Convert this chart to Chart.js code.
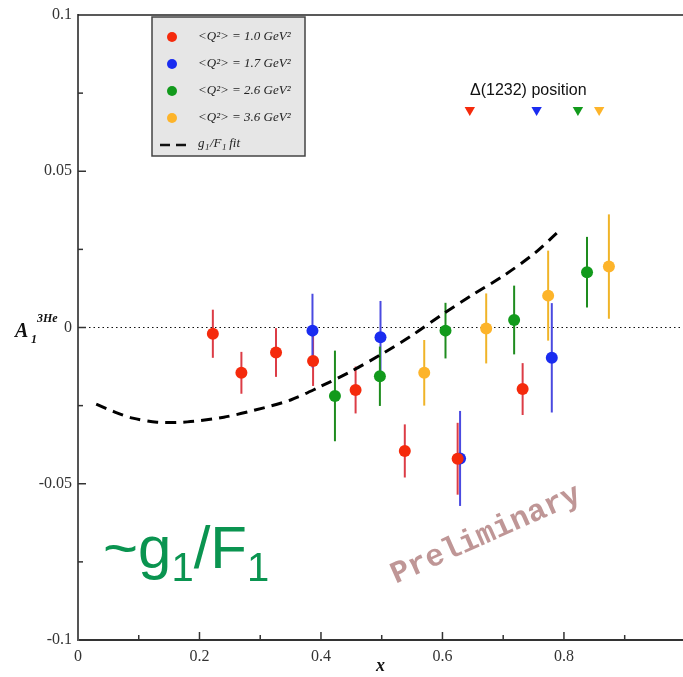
<!DOCTYPE html>
<html lang="en">
<head>
    <meta charset="UTF-8">
    <title>A1 3He vs x</title>
    <script src="https://cdn.jsdelivr.net/npm/chart.js"></script>
    <style>
        body {
            margin: 0;
            background-color: white;
        }
        #chartContainer {
            width: 683px;
            height: 677px;
        }
    </style>
</head>
<body>

    <div id="chartContainer">
        <canvas id="a1Chart"></canvas>
    </div>

    <script>
        // <Q^2> = 1.0 GeV^2
        const q10X = [0.222, 0.269, 0.326, 0.387, 0.457, 0.538, 0.625, 0.732];
        const q10Y = [-0.002, -0.0145, -0.008, -0.0107, -0.020, -0.0395, -0.042, -0.0197];
        const q10Err = [0.0077, 0.0067, 0.0078, 0.008, 0.0075, 0.0085, 0.0115, 0.0083];

        // <Q^2> = 1.7 GeV^2
        const q17X = [0.386, 0.498, 0.629, 0.780];
        const q17Y = [-0.001, -0.0031, -0.0419, -0.0097];
        const q17Err = [0.0118, 0.0116, 0.0152, 0.0175];

        // <Q^2> = 2.6 GeV^2
        const q26X = [0.423, 0.497, 0.605, 0.718, 0.838];
        const q26Y = [-0.0219, -0.0156, -0.001, 0.0024, 0.0177];
        const q26Err = [0.0145, 0.0095, 0.0089, 0.011, 0.0113];

        // <Q^2> = 3.6 GeV^2
        const q36X = [0.570, 0.672, 0.774, 0.874];
        const q36Y = [-0.0145, -0.0003, 0.0102, 0.0195];
        const q36Err = [0.0105, 0.0112, 0.0144, 0.0167];

        // g1/F1 fit curve
        const fitX = [0.03, 0.06, 0.09, 0.13, 0.18, 0.24, 0.29, 0.35, 0.40, 0.45, 0.50, 0.55, 0.60, 0.65, 0.70, 0.75, 0.79];
        const fitY = [-0.0245, -0.027, -0.029, -0.0303, -0.0302, -0.0287, -0.0265, -0.0232, -0.0188, -0.014, -0.0085, -0.0025, 0.0042, 0.0105, 0.0165, 0.0235, 0.0305];

        // Delta(1232) position markers (one per Q^2)
        const deltaX = [0.645, 0.755, 0.823, 0.858];
        const deltaY = [0.0696, 0.0696, 0.0696, 0.0696];

        const seriesLabels = ['<Q²> = 1.0 GeV²', '<Q²> = 1.7 GeV²', '<Q²> = 2.6 GeV²', '<Q²> = 3.6 GeV²'];
        const pointColors = ['#f52a0c', '#1a2cf0', '#129a1c', '#fdb42a'];
        const barColors = ['#dc3c46', '#4a4ae0', '#1e8c1e', '#f0b428'];

        const xTicks = [0, 0.2, 0.4, 0.6, 0.8];

        function toPoints(xs, ys) {
            return xs.map((x, i) => ({ x: x, y: ys[i] }));
        }

        function pointSet(idx, xs, ys, errs) {
            return {
                type: 'scatter',
                label: seriesLabels[idx],
                data: toPoints(xs, ys),
                yErr: errs,
                barColor: barColors[idx],
                backgroundColor: pointColors[idx],
                borderColor: pointColors[idx],
                pointRadius: 6,
                borderWidth: 0
            };
        }

        // vertical error bars, drawn under the points
        const errorBars = {
            id: 'errorBars',
            beforeDatasetsDraw(chart) {
                const c = chart.ctx;
                const xs = chart.scales.x, ys = chart.scales.y;
                c.save();
                c.lineWidth = 2;
                chart.data.datasets.forEach(ds => {
                    if (!ds.yErr) return;
                    c.strokeStyle = ds.barColor;
                    ds.data.forEach((p, i) => {
                        const px = xs.getPixelForValue(p.x);
                        c.beginPath();
                        c.moveTo(px, ys.getPixelForValue(p.y + ds.yErr[i]));
                        c.lineTo(px, ys.getPixelForValue(p.y - ds.yErr[i]));
                        c.stroke();
                    });
                });
                c.restore();
            }
        };

        // frame, inward ticks, zero line
        const frame = {
            id: 'frame',
            beforeDatasetsDraw(chart) {
                const c = chart.ctx;
                const a = chart.chartArea;
                const xs = chart.scales.x, ys = chart.scales.y;
                c.save();
                // dotted zero line
                c.strokeStyle = '#111';
                c.lineWidth = 1;
                c.setLineDash([1.5, 3]);
                const y0 = ys.getPixelForValue(0);
                c.beginPath();
                c.moveTo(a.left + 2, y0);
                c.lineTo(a.right, y0);
                c.stroke();
                c.setLineDash([]);
                // top frame
                c.strokeStyle = '#222';
                c.lineWidth = 1.5;
                c.beginPath();
                c.moveTo(a.left, a.top);
                c.lineTo(a.right, a.top);
                c.stroke();
                // x ticks
                c.strokeStyle = '#333';
                c.lineWidth = 1.5;
                for (let v = 0.1; v < 1; v += 0.1) {
                    const px = xs.getPixelForValue(v);
                    const major = Math.abs(v / 0.2 - Math.round(v / 0.2)) < 0.01;
                    c.beginPath();
                    c.moveTo(px, a.bottom);
                    c.lineTo(px, a.bottom - (major ? 8 : 5));
                    c.stroke();
                }
                // y ticks
                for (let v = -0.075; v < 0.1; v += 0.025) {
                    const py = ys.getPixelForValue(v);
                    const major = Math.abs(v / 0.05 - Math.round(v / 0.05)) < 0.01;
                    c.beginPath();
                    c.moveTo(a.left, py);
                    c.lineTo(a.left + (major ? 8 : 5), py);
                    c.stroke();
                }
                c.restore();
            }
        };

        // legend box, axis title, annotations
        const annotations = {
            id: 'annotations',
            afterDraw(chart) {
                const c = chart.ctx;
                const ys = chart.scales.y;
                c.save();

                // legend
                c.fillStyle = '#e6e6e6';
                c.fillRect(152, 17, 153, 139);
                c.strokeStyle = '#444';
                c.lineWidth = 1.5;
                c.strokeRect(152, 17, 153, 139);
                c.font = 'italic 13px "Liberation Serif"';
                c.textBaseline = 'middle';
                seriesLabels.forEach((lab, i) => {
                    const ry = 37 + i * 27;
                    c.fillStyle = pointColors[i];
                    c.beginPath();
                    c.arc(172, ry, 5, 0, Math.PI * 2);
                    c.fill();
                    c.fillStyle = '#222';
                    c.fillText(lab, 198, ry);
                });
                c.strokeStyle = '#111';
                c.lineWidth = 2.5;
                c.setLineDash([10, 6]);
                c.beginPath();
                c.moveTo(160, 145);
                c.lineTo(190, 145);
                c.stroke();
                c.setLineDash([]);
                c.fillStyle = '#222';
                c.fillText('g', 198, 144);
                c.font = 'italic 9px "Liberation Serif"';
                c.fillText('1', 205, 148);
                c.font = 'italic 13px "Liberation Serif"';
                c.fillText('/F', 210, 144);
                c.font = 'italic 9px "Liberation Serif"';
                c.fillText('1', 222, 148);
                c.font = 'italic 13px "Liberation Serif"';
                c.fillText(' fit', 226, 144);

                // y axis title A_1^3He
                const y0 = ys.getPixelForValue(0);
                c.fillStyle = '#111';
                c.textBaseline = 'alphabetic';
                c.font = 'italic bold 20px "Liberation Serif"';
                c.fillText('A', 15, y0 + 9);
                c.font = 'italic bold 12px "Liberation Serif"';
                c.fillText('1', 31, y0 + 15);
                c.fillText('3He', 37, y0 - 6);

                // Delta(1232) label
                c.font = '16px "Liberation Sans"';
                c.fillStyle = '#111';
                c.fillText('Δ(1232) position', 470, 95);

                // ~g1/F1
                c.fillStyle = '#0a9450';
                c.font = '60px "Liberation Sans"';
                let gx = 103;
                c.fillText('~g', gx, 568);
                gx += c.measureText('~g').width;
                c.font = '40px "Liberation Sans"';
                c.fillText('1', gx, 581);
                gx += c.measureText('1').width;
                c.font = '60px "Liberation Sans"';
                c.fillText('/F', gx, 568);
                gx += c.measureText('/F').width;
                c.font = '40px "Liberation Sans"';
                c.fillText('1', gx, 581);

                // Preliminary stamp
                c.translate(486, 535);
                c.rotate(-24 * Math.PI / 180);
                c.font = 'bold 31px "Liberation Mono"';
                c.fillStyle = 'rgba(170, 115, 115, 0.75)';
                c.textAlign = 'center';
                c.textBaseline = 'middle';
                c.fillText('Preliminary', 0, 0);

                c.restore();
            }
        };

        const ctx = document.getElementById('a1Chart').getContext('2d');

        const a1Chart = new Chart(ctx, {
            data: {
                datasets: [
                    {
                        type: 'line',
                        label: 'g1/F1 fit',
                        data: toPoints(fitX, fitY),
                        borderColor: '#000',
                        borderWidth: 3,
                        borderDash: [11, 7],
                        pointRadius: 0,
                        tension: 0.3,
                        fill: false
                    },
                    pointSet(0, q10X, q10Y, q10Err),
                    pointSet(1, q17X, q17Y, q17Err),
                    pointSet(2, q26X, q26Y, q26Err),
                    pointSet(3, q36X, q36Y, q36Err),
                    {
                        type: 'scatter',
                        label: 'Delta(1232) position',
                        data: toPoints(deltaX, deltaY),
                        backgroundColor: pointColors,
                        borderColor: pointColors,
                        pointStyle: 'triangle',
                        rotation: 180,
                        pointRadius: 6,
                        borderWidth: 0
                    }
                ]
            },
            options: {
                responsive: true,
                maintainAspectRatio: false,
                animation: false,
                layout: {
                    autoPadding: false,
                    padding: { top: 15, right: 0, left: 0, bottom: 0 }
                },
                plugins: {
                    legend: { display: false },
                    tooltip: { enabled: false }
                },
                scales: {
                    x: {
                        type: 'linear',
                        min: 0,
                        max: 0.996,
                        grid: { display: false, drawTicks: false },
                        border: { display: true, color: '#333', width: 2 },
                        ticks: {
                            stepSize: 0.2,
                            padding: 7,
                            color: '#333',
                            font: { family: '"Liberation Serif"', size: 16 },
                            callback: v => xTicks.some(t => Math.abs(t - v) < 1e-6) ? String(parseFloat(v.toFixed(2))) : ''
                        },
                        title: {
                            display: true,
                            text: 'x',
                            color: '#111',
                            padding: 0,
                            font: { family: '"Liberation Serif"', size: 18, style: 'italic', weight: 'bold' }
                        },
                        afterFit: scale => {
                            scale.height = 37;
                            scale.paddingLeft = 0;
                            scale.paddingRight = 0;
                        }
                    },
                    y: {
                        type: 'linear',
                        min: -0.1,
                        max: 0.1,
                        grid: { display: false, drawTicks: false },
                        border: { display: true, color: '#555', width: 2 },
                        ticks: {
                            stepSize: 0.05,
                            padding: 6,
                            color: '#333',
                            font: { family: '"Liberation Serif"', size: 16 },
                            callback: v => String(parseFloat(v.toFixed(3)))
                        },
                        afterFit: scale => {
                            scale.width = 78;
                            scale.paddingTop = 0;
                            scale.paddingBottom = 0;
                        }
                    }
                }
            },
            plugins: [frame, errorBars, annotations]
        });
    </script>

</body>
</html>
